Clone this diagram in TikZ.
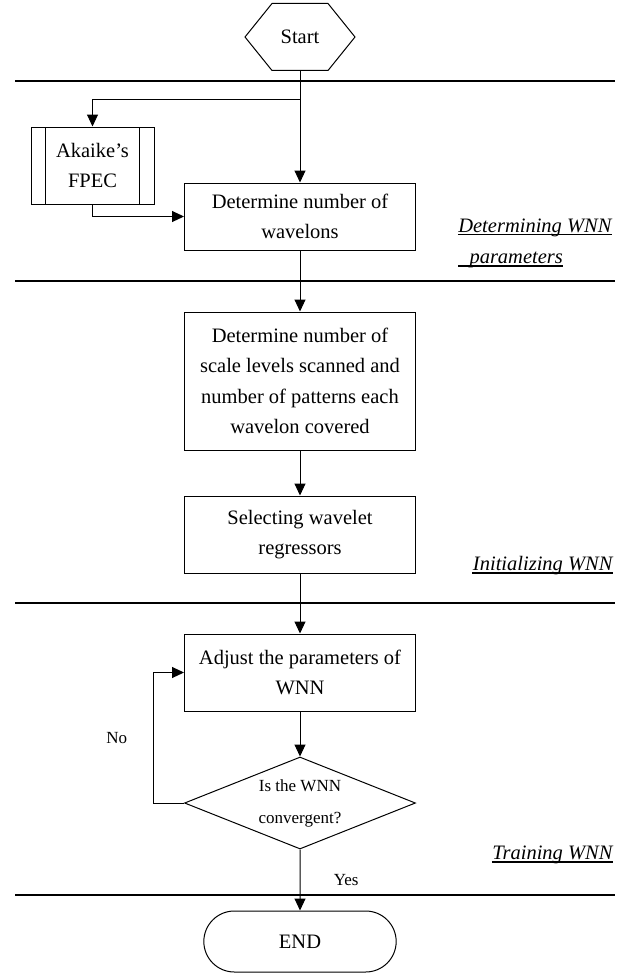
\documentclass[tikz,border=0pt]{standalone}
\usepackage{fontspec}
\setmainfont{Liberation Serif}
\usetikzlibrary{arrows.meta,positioning,shapes.geometric,shapes.misc}

\begin{document}
\begin{tikzpicture}[x=1pt, y=-1pt, on grid, line width=1pt,
  >={Triangle[width=11pt,length=12pt]},
  every node/.style={font=\fontsize{20.5}{30.5}\selectfont},
  process/.style={rectangle, draw, minimum width=231pt, align=center, inner sep=2pt},
  subproc/.style={rectangle, draw, minimum width=123pt, minimum height=77pt, align=center,
    path picture={\draw ([xshift=14pt]path picture bounding box.north west) -- ([xshift=14pt]path picture bounding box.south west);
      \draw ([xshift=-15pt]path picture bounding box.north east) -- ([xshift=-15pt]path picture bounding box.south east);}},
  terminal/.style={rounded rectangle, draw, minimum width=199pt, minimum height=61pt},
  hexa/.style={rectangle, minimum width=109pt, minimum height=66pt, inner sep=0pt},
  decision/.style={diamond, draw, aspect=2.5, inner sep=0pt, minimum width=231pt, minimum height=92pt,
    align=center, font=\fontsize{17}{32}\selectfont},
  phase/.style={anchor=base east, inner sep=0pt, font=\fontsize{20.5}{24}\selectfont\itshape},
  uline/.style={line width=1.8pt},
  small/.style={font=\fontsize{17}{20}\selectfont},
  sepbold/.style={line width=2.6pt},
  septhin/.style={line width=1.4pt}]
\useasboundingbox (0,0) rectangle (627,974);

% flow
\node [hexa] (start) at (300,37) {Start};
\draw (start.west) -- ([xshift=27pt]start.north west) -- ([xshift=-27pt]start.north east)
  -- (start.east) -- ([xshift=-27pt]start.south east) -- ([xshift=27pt]start.south west) -- cycle;
\node [process, minimum height=67pt] (wavelon) [below=179.5pt of start] {Determine number of\\wavelons};
\node [subproc] (fpec) at (92.5,165.5) {Akaike’s\\FPEC};
\node [process, minimum height=138pt] (scale) [below=164.5pt of wavelon] {Determine number of\\scale levels scanned and\\number of patterns each\\wavelon covered};
\node [process, minimum height=77pt] (regress) [below=153.5pt of scale] {Selecting wavelet\\regressors};
\node [process, minimum height=77pt] (adjust) [below=138pt of regress] {Adjust the parameters of\\WNN};
\node [decision] (conv) [below=130.5pt of adjust] {Is the WNN\\convergent?};
\node [terminal] (end) [below=138.5pt of conv] {END};
\coordinate (split) at (300,99);

\path [->]
(start) edge (wavelon)
(wavelon) edge (scale)
(scale) edge (regress)
(regress) edge (adjust)
(adjust) edge (conv)
(conv) edge node [small, right=30pt] {Yes} (end);
\draw [->] (split) -| (fpec);
\draw [->] (fpec) |- (wavelon);
\draw [->] (conv.west) -- ++(-31,0) |- node [small, pos=.25, left=22pt] {No} (adjust.west);

% stages
\draw [sepbold] (15,81) -- (615,81);
\draw [sepbold] (15,281) -- (615,281);
\draw [septhin] (15,603) -- (615,603);
\draw [sepbold] (15,895) -- (615,895);

\node [phase] (det) at (612,232) {Determining WNN};
\node [phase, anchor=base west] (par) at (469,263) {parameters};
\node [phase] (init) at (613,570) {Initializing WNN};
\node [phase] (train) at (613,859) {Training WNN};
\draw [uline] ([yshift=-2.5pt]det.base west) -- ([yshift=-2.5pt]det.base east);
\draw [uline] ([xshift=-11pt,yshift=-3pt]par.base west) -- ([yshift=-3pt]par.base east);
\draw [uline] ([yshift=-3pt]init.base west) -- ([yshift=-3pt]init.base east);
\draw [uline] ([yshift=-3pt]train.base west) -- ([yshift=-3pt]train.base east);
\end{tikzpicture}
\end{document}
